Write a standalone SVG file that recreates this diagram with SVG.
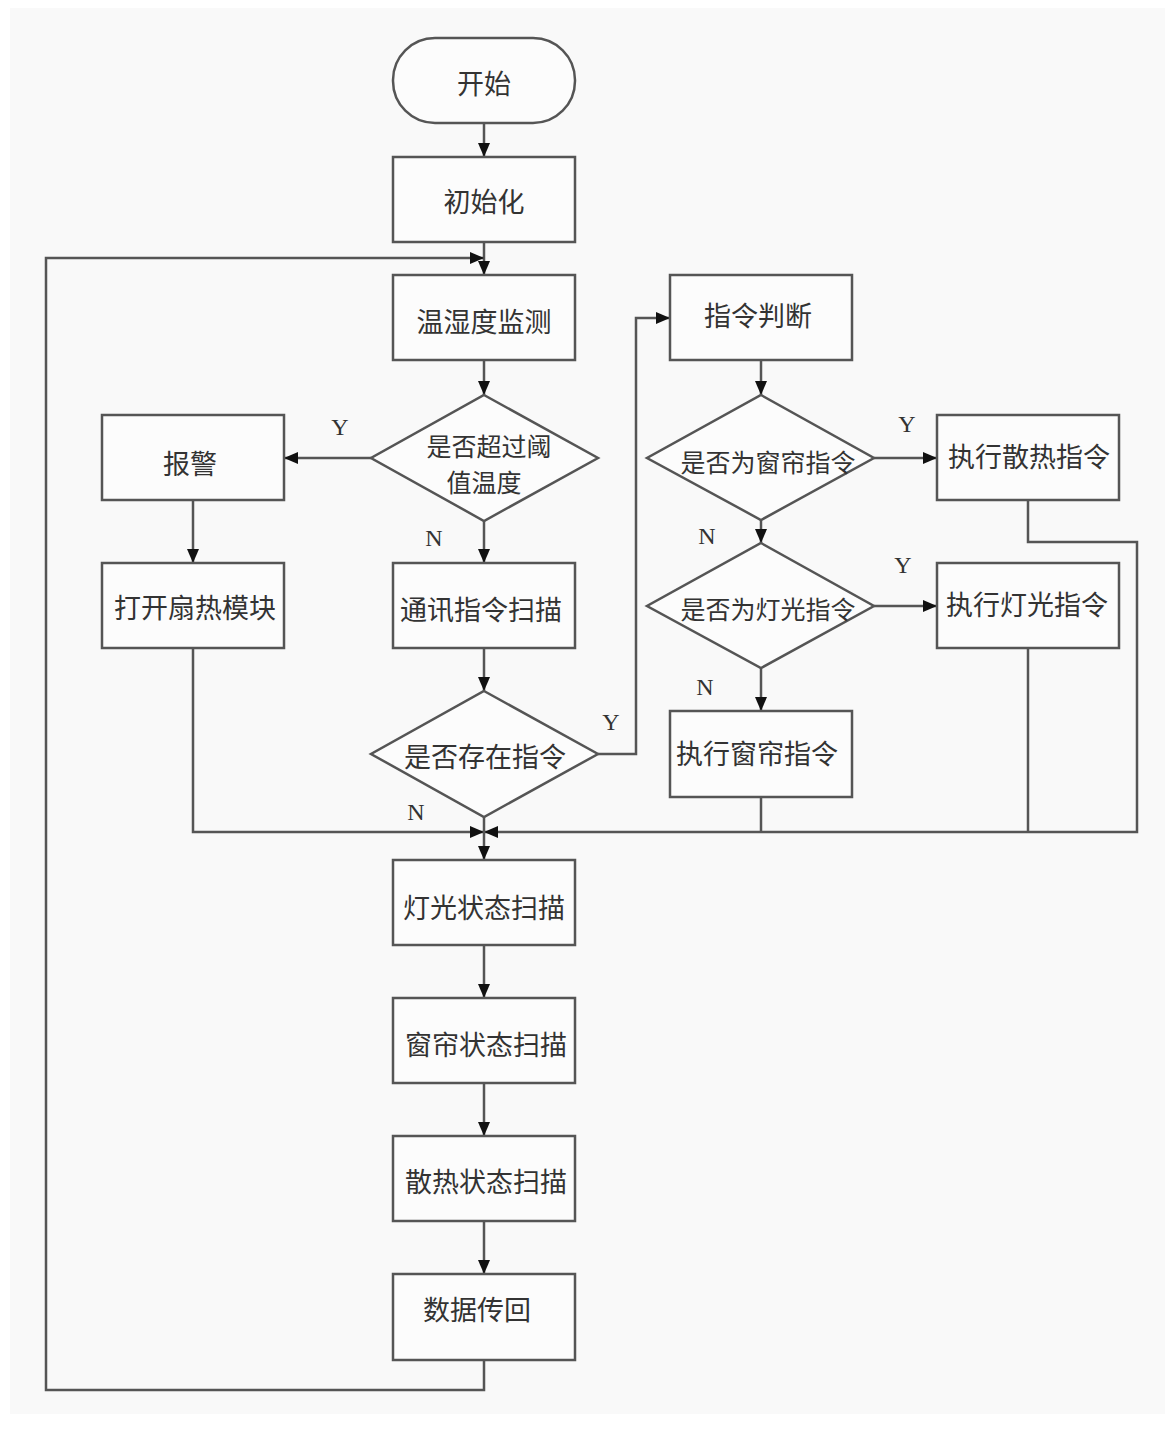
<svg xmlns="http://www.w3.org/2000/svg" width="1165" height="1437" viewBox="0 0 1165 1437">
<defs>
<marker id="ah" viewBox="0 0 14 12" refX="14" refY="6" markerWidth="14" markerHeight="12" markerUnits="userSpaceOnUse" orient="auto">
<path d="M0,0 L14,6 L0,12 z" fill="#111"/>
</marker>
<style>
.box{fill:#fcfcfc;stroke:#555;stroke-width:2.5}
.ln{fill:none;stroke:#555;stroke-width:2.5}
.arr{fill:none;stroke:#555;stroke-width:2.5;marker-end:url(#ah)}
.t{font-family:"Noto Sans CJK SC","Liberation Serif",serif;font-size:27px;fill:#333;text-anchor:middle;dominant-baseline:central}
.td{font-family:"Noto Sans CJK SC","Liberation Serif",serif;font-size:25px;fill:#333;text-anchor:middle;dominant-baseline:central}
.yn{font-family:"Liberation Serif",serif;font-size:24px;fill:#333;text-anchor:middle;dominant-baseline:central}
</style>
</defs>
<rect x="0" y="0" width="1165" height="1437" fill="#ffffff"/>
<rect x="10" y="8" width="1155" height="1406" fill="#f9f9f9"/>
<g id="connectors">
<path class="arr" d="M484,123 V157"/>
<path class="arr" d="M484,242 V275"/>
<path class="arr" d="M484,1360 V1390 H46 V258 H484"/>
<path class="arr" d="M484,360 V395"/>
<path class="arr" d="M371,458 H284"/>
<path class="arr" d="M193,500 V563"/>
<path class="arr" d="M484,521 V563"/>
<path class="arr" d="M484,648 V691"/>
<path class="arr" d="M598,754 H636 V318 H670"/>
<path class="arr" d="M761,360 V395"/>
<path class="arr" d="M874,458 H937"/>
<path class="arr" d="M761,520 V543"/>
<path class="arr" d="M874,606 H937"/>
<path class="arr" d="M761,668 V711"/>
<path class="arr" d="M193,648 V832 H484"/>
<path class="arr" d="M1028,500 V542 H1137 V832 H484"/>
<path class="ln" d="M1028,648 V832"/>
<path class="ln" d="M761,797 V832"/>
<path class="arr" d="M484,817 V860"/>
<path class="arr" d="M484,945 V998"/>
<path class="arr" d="M484,1083 V1136"/>
<path class="arr" d="M484,1221 V1274"/>
<text class="yn" x="340" y="427">Y</text>
<text class="yn" x="434" y="538">N</text>
<text class="yn" x="611" y="722">Y</text>
<text class="yn" x="416" y="812">N</text>
<text class="yn" x="907" y="424">Y</text>
<text class="yn" x="707" y="536">N</text>
<text class="yn" x="903" y="565">Y</text>
<text class="yn" x="705" y="687">N</text>
</g>
<g id="start"><rect class="box" x="393" y="38" width="182" height="85" rx="42" ry="42"/><text class="t" x="484" y="82">开始</text></g>
<g id="init"><rect class="box" x="393" y="157" width="182" height="85"/><text class="t" x="484" y="200">初始化</text></g>
<g id="monitor"><rect class="box" x="393" y="275" width="182" height="85"/><text class="t" x="484" y="320">温湿度监测</text></g>
<g id="d_threshold"><polygon class="box" points="484,395 598,458 484,521 371,458"/><text class="td" x="489" y="445">是否超过阈</text><text class="td" x="484" y="481">值温度</text></g>
<g id="alarm"><rect class="box" x="102" y="415" width="182" height="85"/><text class="t" x="190" y="462">报警</text></g>
<g id="fan"><rect class="box" x="102" y="563" width="182" height="85"/><text class="t" x="195" y="606">打开扇热模块</text></g>
<g id="scan_cmd"><rect class="box" x="393" y="563" width="182" height="85"/><text class="t" x="481" y="608">通讯指令扫描</text></g>
<g id="d_exist"><polygon class="box" points="484,691 598,754 484,817 371,754"/><text class="t" x="485" y="755">是否存在指令</text></g>
<g id="judge"><rect class="box" x="670" y="275" width="182" height="85"/><text class="t" x="758" y="314">指令判断</text></g>
<g id="d_curtain"><polygon class="box" points="761,395 874,458 761,520 647,458"/><text class="td" x="768" y="461">是否为窗帘指令</text></g>
<g id="exec_heat"><rect class="box" x="937" y="415" width="182" height="85"/><text class="t" x="1029" y="455">执行散热指令</text></g>
<g id="d_light"><polygon class="box" points="761,543 874,606 761,668 647,606"/><text class="td" x="768" y="608">是否为灯光指令</text></g>
<g id="exec_light"><rect class="box" x="937" y="563" width="182" height="85"/><text class="t" x="1027" y="603">执行灯光指令</text></g>
<g id="exec_curtain"><rect class="box" x="670" y="711" width="182" height="86"/><text class="t" x="757" y="752">执行窗帘指令</text></g>
<g id="scan_light"><rect class="box" x="393" y="860" width="182" height="85"/><text class="t" x="484" y="906">灯光状态扫描</text></g>
<g id="scan_curtain"><rect class="box" x="393" y="998" width="182" height="85"/><text class="t" x="486" y="1043">窗帘状态扫描</text></g>
<g id="scan_heat"><rect class="box" x="393" y="1136" width="182" height="85"/><text class="t" x="486" y="1180">散热状态扫描</text></g>
<g id="send"><rect class="box" x="393" y="1274" width="182" height="86"/><text class="t" x="477" y="1308">数据传回</text></g>
</svg>
